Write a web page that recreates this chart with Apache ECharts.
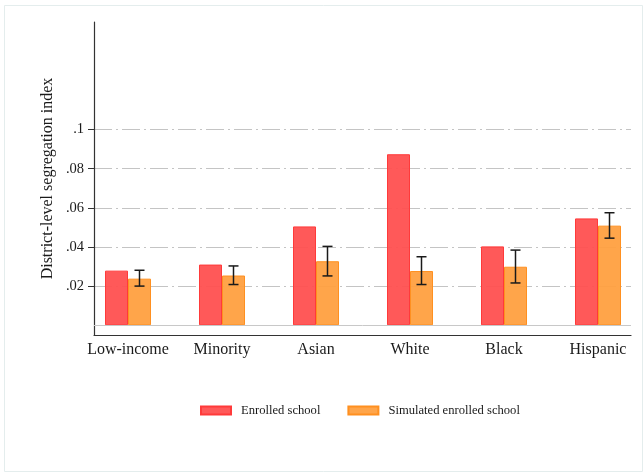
<!DOCTYPE html>
<html>
<head>
<meta charset="utf-8">
<script src="https://cdn.jsdelivr.net/npm/echarts@6/dist/echarts.min.js"></script>
<style>
  html, body { margin: 0; padding: 0; background: #fff; }
  #chart { width: 643px; height: 473px; }
</style>
</head>
<body>
<div id="chart"></div>
<script>
// Segregation index by group: actual enrolled school vs. simulated assignment
const categories = ['Low-income', 'Minority', 'Asian', 'White', 'Black', 'Hispanic'];
const enrolled = [0.0279, 0.0310, 0.0505, 0.0874, 0.0403, 0.0546];
const simulated = [0.0238, 0.0254, 0.0327, 0.0277, 0.0299, 0.0509];
const simulatedLow = [0.0200, 0.0208, 0.0252, 0.0208, 0.0216, 0.0445];
const simulatedHigh = [0.0281, 0.0303, 0.0403, 0.0350, 0.0384, 0.0575];
const yTicks = [0.02, 0.04, 0.06, 0.08, 0.1];
const seriesNames = ['Enrolled school', 'Simulated enrolled school'];

const FONT = '"Liberation Serif", "DejaVu Serif", serif';
const TEXT = '#1a1a1a';
const AXIS = '#333';
const BAR_W = 23;
const Y_MIN = -0.005;
const Y_MAX = 0.155;

const chart = echarts.init(document.getElementById('chart'), null, { renderer: 'canvas' });

chart.setOption({
  backgroundColor: '#fff',
  animation: false,
  textStyle: { fontFamily: FONT },
  graphic: [{
    type: 'rect',
    silent: true,
    z: -10,
    shape: { x: 4.5, y: 5.5, width: 638, height: 466 },
    style: { fill: 'none', stroke: '#e4eded', lineWidth: 1 }
  }],
  legend: {
    data: seriesNames,
    left: 195,
    top: 399,
    itemWidth: 30,
    itemHeight: 8,
    itemGap: 27,
    icon: 'rect',
    textStyle: { fontFamily: FONT, fontSize: 12.6, color: TEXT, padding: [0, 0, 0, 5] }
  },
  grid: [
    // frame: axes and gridlines
    { left: 94, right: 12, top: 22, bottom: 138, outerBoundsMode: 'none' },
    // bars: six equal category bands
    { left: 81, width: 564, top: 22, bottom: 138, outerBoundsMode: 'none' }
  ],
  xAxis: [
    {
      type: 'value', gridIndex: 0, min: 0, max: 1,
      axisLine: { show: true, onZero: false, lineStyle: { color: AXIS, width: 1.2 } },
      axisTick: { show: false },
      axisLabel: { show: false },
      splitLine: { show: false }
    },
    {
      type: 'category', gridIndex: 1, data: categories,
      axisLine: { show: false },
      axisTick: { show: false },
      axisLabel: { margin: 7, fontFamily: FONT, fontSize: 16, color: TEXT, interval: 0 },
      splitLine: { show: false }
    }
  ],
  yAxis: [
    {
      type: 'value', gridIndex: 0, min: Y_MIN, max: Y_MAX,
      name: 'District-level segregation index',
      nameLocation: 'middle',
      nameGap: 38,
      nameMoveOverlap: false,
      nameTextStyle: { fontFamily: FONT, fontSize: 16, color: TEXT },
      axisLine: { show: true, onZero: false, lineStyle: { color: AXIS, width: 1.2 } },
      axisTick: { show: true, length: 6, customValues: yTicks, lineStyle: { color: AXIS } },
      axisLabel: {
        customValues: yTicks,
        margin: 10,
        fontFamily: FONT, fontSize: 14.5, color: TEXT,
        formatter: v => String(v).replace(/^0\./, '.')
      },
      splitLine: { show: true, lineStyle: { color: '#c4c4c4', width: 1, type: [18, 4, 2, 4] } }
    },
    { type: 'value', gridIndex: 1, min: Y_MIN, max: Y_MAX, show: false }
  ],
  series: [
    {
      // zero baseline across the plot area
      type: 'line', xAxisIndex: 0, yAxisIndex: 0, data: [], z: 1,
      markLine: {
        silent: true, symbol: 'none', animation: false,
        label: { show: false },
        lineStyle: { color: '#c8c8c8', type: 'solid', width: 1 },
        data: [{ yAxis: 0 }]
      }
    },
    {
      name: seriesNames[0], type: 'bar', xAxisIndex: 1, yAxisIndex: 1,
      data: enrolled, barWidth: BAR_W, barGap: '0%',
      itemStyle: { color: 'rgba(255,80,80,0.95)', borderColor: '#ff3a3a', borderWidth: 1 }
    },
    {
      name: seriesNames[1], type: 'bar', xAxisIndex: 1, yAxisIndex: 1,
      data: simulated, barWidth: BAR_W, barGap: '0%',
      itemStyle: { color: 'rgba(255,160,64,0.95)', borderColor: '#ff9020', borderWidth: 1 }
    },
    {
      // confidence intervals on the simulated bars
      type: 'custom', xAxisIndex: 1, yAxisIndex: 1, z: 5,
      data: categories.map((c, i) => [i, simulatedLow[i], simulatedHigh[i]]),
      encode: { x: 0, y: [1, 2] },
      renderItem: (params, api) => {
        const i = api.value(0);
        const x = api.coord([i, 0])[0] + BAR_W / 2;
        const yLo = api.coord([i, api.value(1)])[1];
        const yHi = api.coord([i, api.value(2)])[1];
        const cap = 5;
        const style = { stroke: '#1a1a1a', lineWidth: 1.5 };
        return {
          type: 'group',
          children: [
            { type: 'line', shape: { x1: x, y1: yLo, x2: x, y2: yHi }, style },
            { type: 'line', shape: { x1: x - cap, y1: yHi, x2: x + cap, y2: yHi }, style },
            { type: 'line', shape: { x1: x - cap, y1: yLo, x2: x + cap, y2: yLo }, style }
          ]
        };
      }
    }
  ]
});
</script>
</body>
</html>
